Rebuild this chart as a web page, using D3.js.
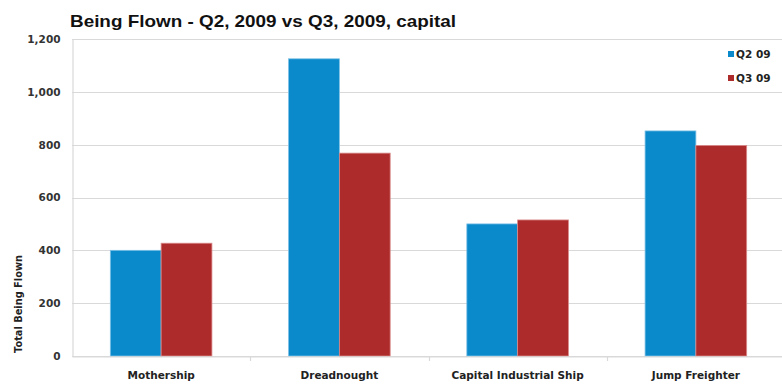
<!DOCTYPE html>
<html>
<head>
<meta charset="utf-8">
<script src="https://cdn.jsdelivr.net/npm/d3@7"></script>
<style>
  html, body { margin: 0; padding: 0; background: #fff; }
  svg { display: block; font-family: "DejaVu Sans", "Liberation Sans", Arial, sans-serif; }
</style>
</head>
<body>
<svg id="chart" width="782" height="384"></svg>
<script>
// Capital ships being flown, Q2 vs Q3 2009
const categories = ["Mothership", "Dreadnought", "Capital Industrial Ship", "Jump Freighter"];
const seriesNames = ["Q2 09", "Q3 09"];
const q2Values = [400, 1125, 500, 852];
const q3Values = [427, 768, 515, 797];
const yTicks = [0, 200, 400, 600, 800, 1000, 1200];
const colors = ["#0a8acb", "#ae2b2b"];
const strokeColors = ["#7cc0e6", "#d98a8a"];

const svg = d3.select("#chart");
const plotLeft = 72, plotRight = 785, plotTop = 39, plotBottom = 356;

const x = d3.scaleBand().domain(categories).range([plotLeft, plotRight])
  .paddingInner(0.43).paddingOuter(0.215);
const xSub = d3.scaleBand().domain(seriesNames).range([0, x.bandwidth()]);
const y = d3.scaleLinear().domain([0, 1200]).range([plotBottom, plotTop]);

// title
svg.append("text")
  .attr("x", 70).attr("y", 27)
  .attr("font-family", "'Liberation Sans', Arial, sans-serif")
  .attr("font-size", 16.5).attr("font-weight", "bold").attr("fill", "#111")
  .attr("textLength", 386).attr("lengthAdjust", "spacingAndGlyphs")
  .text("Being Flown - Q2, 2009 vs Q3, 2009, capital");

// gridlines
svg.append("g").selectAll("line").data(yTicks).join("line")
  .attr("x1", plotLeft).attr("x2", 782)
  .attr("y1", d => Math.round(y(d)) + 0.5).attr("y2", d => Math.round(y(d)) + 0.5)
  .attr("stroke", "#d9d9d9").attr("stroke-width", 1.2);

// y axis
const yAxis = d3.axisLeft(y).tickValues(yTicks).tickSize(0).tickPadding(12)
  .tickFormat(d3.format(","));
const yg = svg.append("g").attr("transform", `translate(${plotLeft + 0.5},0)`).call(yAxis)
  .attr("font-family", null).attr("font-size", null);
yg.select(".domain").attr("stroke", "#d9d9d9").attr("stroke-width", 1.2);
yg.selectAll("text")
  .attr("font-size", 10.5).attr("font-weight", "bold").attr("fill", "#333");

// y axis title
svg.append("text")
  .attr("transform", `translate(22,304) rotate(-90)`)
  .attr("text-anchor", "middle")
  .attr("font-size", 9.8).attr("font-weight", "bold").attr("fill", "#222")
  .text("Total Being Flown");

// bars
const rows = categories.map((c, i) => ({ cat: c, vals: [q2Values[i], q3Values[i]] }));
const groups = svg.append("g").selectAll("g").data(rows).join("g")
  .attr("transform", d => `translate(${x(d.cat)},0)`);
groups.selectAll("rect").data(d => d.vals.map((v, j) => ({ v, s: seriesNames[j], j })))
  .join("rect")
  .attr("x", d => xSub(d.s))
  .attr("y", d => y(d.v))
  .attr("width", xSub.bandwidth())
  .attr("height", d => y(0) - y(d.v))
  .attr("fill", d => colors[d.j])
  .attr("stroke", d => strokeColors[d.j])
  .attr("stroke-width", 0.8);

// x axis
const xAxis = d3.axisBottom(x).tickSize(0).tickPadding(15);
const xg = svg.append("g").attr("transform", `translate(0,${plotBottom + 0.5})`).call(xAxis)
  .attr("font-family", null).attr("font-size", null);
xg.select(".domain").attr("stroke", "#d9d9d9").attr("stroke-width", 1.2);
xg.selectAll("text")
  .attr("font-size", 10.5).attr("font-weight", "bold").attr("fill", "#222");

// category boundary tick marks
const boundaries = categories.slice(1).map(c => x(c) - x.step() * x.paddingInner() / 2);
svg.append("g").selectAll("line").data(boundaries).join("line")
  .attr("x1", d => Math.round(d) + 0.5).attr("x2", d => Math.round(d) + 0.5)
  .attr("y1", plotBottom).attr("y2", plotBottom + 5)
  .attr("stroke", "#d9d9d9").attr("stroke-width", 1.2);

// legend
const legend = svg.append("g").attr("transform", "translate(728,0)");
seriesNames.forEach((name, i) => {
  const ly = 54 + i * 24;
  legend.append("rect").attr("x", 0).attr("y", ly - 3).attr("width", 6).attr("height", 6)
    .attr("fill", colors[i]);
  legend.append("text").attr("x", 8).attr("y", ly).attr("dy", "0.35em")
    .attr("font-size", 10.5).attr("font-weight", "bold").attr("fill", "#222")
    .text(name);
});
</script>
</body>
</html>
